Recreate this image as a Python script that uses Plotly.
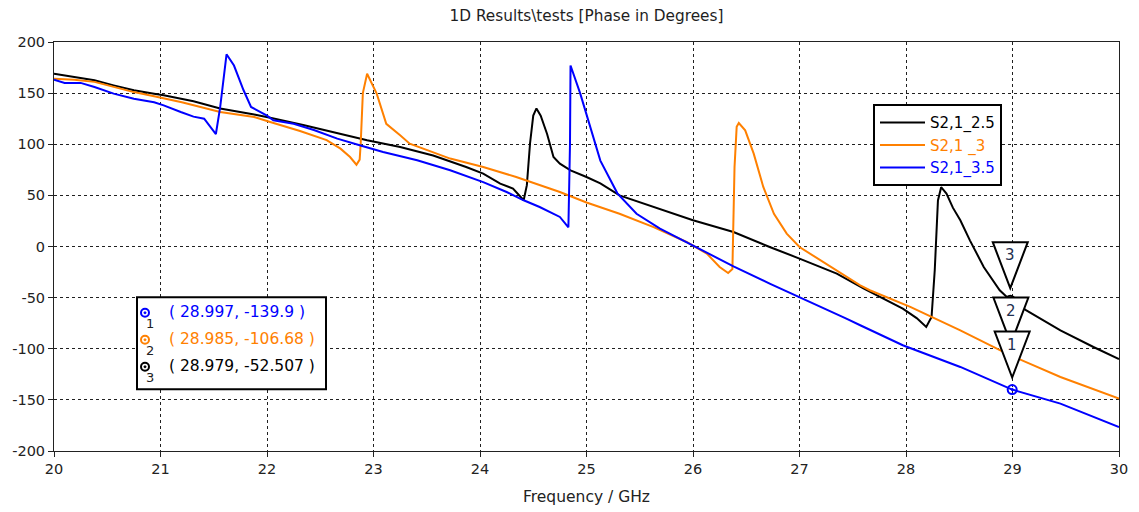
import plotly.graph_objects as go

# ---------------- data ----------------
x_25 = [20.00, 20.19, 20.38, 20.56, 20.75, 20.94, 21.03, 21.31, 21.56, 21.88, 22.03, 22.35,
        22.62, 22.94, 23.25, 23.56, 23.87, 24.03, 24.19, 24.31, 24.41, 24.44, 24.47, 24.50,
        24.53, 24.57, 24.63, 24.69, 24.75, 24.85, 25.00, 25.13, 25.31, 25.63, 26.00, 26.38,
        26.72, 27.00, 27.35, 27.60, 27.97, 28.10, 28.19, 28.24, 28.27, 28.30, 28.33, 28.38,
        28.44, 28.51, 28.60, 28.73, 28.88, 28.979, 29.13, 29.45, 29.76, 30.00]
y_25 = [169, 166, 162.5, 157.6, 152.8, 149.5, 148, 142, 135, 129, 126, 118.5,
        112, 104, 97.3, 89, 77.8, 71.3, 61.5, 56.6, 45.2, 60, 101, 128,
        135, 128, 110, 87.5, 81, 74.5, 68, 61.8, 50, 38.6, 25.6, 14.2,
        -0.5, -11.8, -26.5, -41, -60.7, -70, -78.7, -69, -23, 45, 58, 51.7,
        38, 25.6, 6, -20, -42.8, -52.507, -62.4, -82, -98.3, -110]

x_3 = [20.00, 20.19, 20.38, 20.56, 20.75, 20.94, 21.20, 21.56, 21.88, 22.03, 22.31, 22.56,
       22.69, 22.78, 22.84, 22.87, 22.88, 22.90, 22.94, 23.03, 23.12, 23.25, 23.34, 23.72,
       24.03, 24.34, 24.75, 25.00, 25.31, 25.63, 25.94, 26.13, 26.25, 26.33, 26.37, 26.39,
       26.41, 26.43, 26.49, 26.57, 26.66, 26.76, 26.88, 27.00, 27.25, 27.57, 27.66, 28.04,
       28.51, 28.88, 28.985, 29.45, 30.00]
y_3 = [164, 163, 161, 156, 151, 147, 141, 131.5, 126.6, 121.8, 113, 104,
       95.7, 87.5, 80, 85, 101, 150, 169, 149.5, 120, 108.7, 100.6, 86,
       77.8, 68, 53.3, 43, 32, 19, 4.4, -7, -20, -25.9, -22, 77.8,
       117, 120.8, 113.6, 90.8, 58.2, 32, 12.6, -0.5, -16.7, -38, -42.8, -59,
       -82, -101.5, -106.68, -127.6, -148.8]

x_35 = [20.00, 20.10, 20.25, 20.38, 20.56, 20.75, 20.94, 21.03, 21.19, 21.31, 21.41, 21.47,
        21.52, 21.56, 21.62, 21.69, 21.78, 21.85, 21.91, 22.00, 22.06, 22.25, 22.44, 22.66,
        22.87, 23.09, 23.41, 23.72, 24.03, 24.25, 24.41, 24.56, 24.75, 24.83, 24.845, 24.85,
        24.94, 25.13, 25.29, 25.47, 25.69, 26.00, 26.38, 26.72, 27.00, 27.44, 27.57, 27.97,
        28.51, 28.997, 29.45, 30.00]
y_35 = [163, 160, 160, 156, 149.5, 144.6, 141, 138, 131.5, 127, 125, 117,
        110, 136, 188, 177, 152.8, 136.5, 133, 128, 123.4, 120, 114, 105.5,
        99, 92.5, 84.3, 74.5, 63, 53.3, 45.2, 38.6, 28.9, 18.8, 100, 177,
        150, 84, 52, 32, 17.5, 1.2, -19.4, -36.3, -49.4, -70.5, -77, -96.6,
        -117.8, -139.9, -153.7, -176.5]

names = ["S2,1_2.5", "S2,1 _3", "S2,1_3.5"]
colors = ["#000000", "#ff8000", "#0000ff"]

# marker readouts (marker number, x, y, series index)
mk_num = [1, 2, 3]
mk_x = [28.997, 28.985, 28.979]
mk_y = [-139.9, -106.68, -52.507]
mk_series = [2, 1, 0]
mk_text = ["( 28.997, -139.9 )", "( 28.985, -106.68 )", "( 28.979, -52.507 )"]

x_ticks = [20, 21, 22, 23, 24, 25, 26, 27, 28, 29, 30]
y_ticks = [-200, -150, -100, -50, 0, 50, 100, 150, 200]
y_ticktext = ["-200", "-150", "-100", "-50", "0", "50", "100", "150", "200"]

FONT = "DejaVu Sans"

# ---------------- figure ----------------
fig = go.Figure()
series = [(x_25, y_25), (x_3, y_3), (x_35, y_35)]
for i, (xs, ys) in enumerate(series):
    fig.add_trace(go.Scatter(
        x=xs, y=ys, mode="lines",
        name="<span style='color:%s'>%s</span>" % (colors[i], names[i]),
        line=dict(color=colors[i], width=2),
        legendgroup="g%d" % i,
        hoverinfo="x+y",
    ))

# marker points
for k in range(3):
    c = colors[mk_series[k]]
    fig.add_trace(go.Scatter(
        x=[mk_x[k]], y=[mk_y[k]], mode="markers", showlegend=False,
        marker=dict(symbol="circle-open-dot", size=9, color=c, line=dict(width=2)),
        hoverinfo="x+y",
    ))

shapes = []
annotations = []

# triangles: draw 3 first, then 2, then 1 on top
for k in [2, 1, 0]:
    shapes.append(dict(
        type="path", xref="x", yref="y", xsizemode="pixel", ysizemode="pixel",
        xanchor=mk_x[k], yanchor=mk_y[k],
        path="M -17.5,58 L 17.5,58 L 0,12 Z",
        line=dict(color="black", width=2), fillcolor="white", layer="above",
    ))
    annotations.append(dict(
        x=mk_x[k], y=mk_y[k], xref="x", yref="y", yshift=45,
        text=str(mk_num[k]), showarrow=False,
        font=dict(family=FONT, size=15, color="#1f2f4f"),
    ))

# readout box
pl, pw, pt, ph = 54, 1065, 41.7, 409.0
def px2paper_x(p):
    return (p - pl) / pw
def py2paper_y(p):
    return (pt + ph - p) / ph

shapes.append(dict(
    type="rect", xref="paper", yref="paper",
    x0=px2paper_x(137), x1=px2paper_x(326), y0=py2paper_y(389), y1=py2paper_y(297),
    line=dict(color="black", width=2), fillcolor="white", layer="above",
))
row_py = [312.5, 339.5, 366.5]
for k in range(3):
    c = colors[mk_series[k]]
    yy = py2paper_y(row_py[k])
    shapes.append(dict(
        type="circle", xref="paper", yref="paper", xsizemode="pixel", ysizemode="pixel",
        xanchor=px2paper_x(145), yanchor=yy, x0=-4, x1=4, y0=-4, y1=4,
        line=dict(color=c, width=2), fillcolor="white", layer="above",
    ))
    shapes.append(dict(
        type="circle", xref="paper", yref="paper", xsizemode="pixel", ysizemode="pixel",
        xanchor=px2paper_x(145), yanchor=yy, x0=-1, x1=1, y0=-1, y1=1,
        line=dict(color=c, width=1), fillcolor=c, layer="above",
    ))
    annotations.append(dict(
        x=px2paper_x(150), y=py2paper_y(row_py[k] + 11), xref="paper", yref="paper",
        text=str(mk_num[k]), showarrow=False, xanchor="center", yanchor="middle",
        font=dict(family=FONT, size=13, color="#222222"),
    ))
    annotations.append(dict(
        x=px2paper_x(167), y=yy + 0.002, xref="paper", yref="paper",
        text=mk_text[k], showarrow=False, xanchor="left", yanchor="middle",
        font=dict(family=FONT, size=15.5, color=c),
    ))

# x axis title
annotations.append(dict(
    x=0.5, y=py2paper_y(497), xref="paper", yref="paper",
    text="Frequency / GHz", showarrow=False, xanchor="center", yanchor="middle",
    font=dict(family=FONT, size=15.5, color="#222222"),
))

axis_common = dict(
    showgrid=True, gridcolor="#202020", gridwidth=1, griddash="3px,3px",
    showline=True, linecolor="#222222", linewidth=1, mirror=True,
    ticks="outside", ticklen=5, tickcolor="#222222",
    zeroline=False, tickfont=dict(family=FONT, size=14.5, color="#222222"),
)

fig.update_layout(
    width=1139, height=512,
    margin=dict(l=54, r=20, t=42, b=61),
    paper_bgcolor="white", plot_bgcolor="white",
    title=dict(text="1D Results\\tests [Phase in Degrees]", x=0.5, xref="paper",
               y=1 - 16 / 512, yref="container", yanchor="middle", xanchor="center",
               font=dict(family=FONT, size=15.3, color="#1e1e1e")),
    xaxis=dict(range=[20, 30], tickvals=x_ticks, **axis_common),
    yaxis=dict(range=[-200, 200], tickvals=y_ticks, ticktext=y_ticktext, **axis_common),
    legend=dict(x=px2paper_x(873), y=py2paper_y(104), xanchor="left", yanchor="top",
                bgcolor="white", bordercolor="black", borderwidth=2,
                font=dict(family=FONT, size=15, color="black"),
                itemwidth=45, tracegroupgap=8, traceorder="normal"),
    shapes=shapes, annotations=annotations,
    showlegend=True,
)

fig.write_html("out.html")
